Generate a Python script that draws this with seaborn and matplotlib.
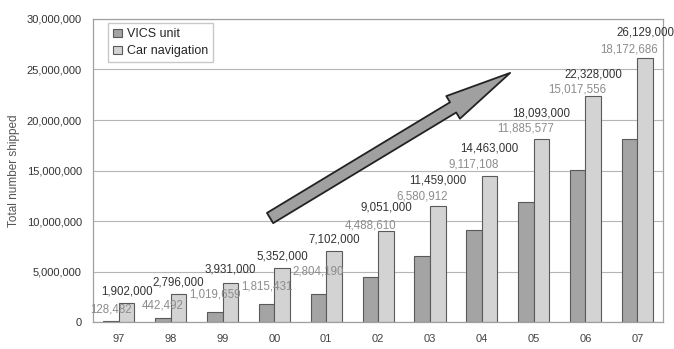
import numpy as np
import pandas as pd
import matplotlib
matplotlib.use("Agg")
import matplotlib.pyplot as plt
import matplotlib.ticker as mticker
from matplotlib.patches import FancyArrowPatch, ArrowStyle
import seaborn as sns

# ==========================
# DATA
# ==========================

years = ["97", "98", "99", "00", "01", "02", "03", "04", "05", "06", "07"]

vics_unit = [128482, 442492, 1019659, 1815431, 2804190, 4488610,
             6580912, 9117108, 11885577, 15017556, 18172686]

car_navigation = [1902000, 2796000, 3931000, 5352000, 7102000, 9051000,
                  11459000, 14463000, 18093000, 22328000, 26129000]

series_names = ["VICS unit", "Car navigation"]

# label placement (pixels above the car navigation bar top)
label_lift = [12, 12, 13, 12, 11, 23, 26, 28, 26, 22, 26]
label_drop = [18, 23, 25, 30, 32, 18, 16, 16, 15, 15, 17]

df = pd.DataFrame({
    "year": years * 2,
    "series": [series_names[0]] * len(years) + [series_names[1]] * len(years),
    "shipped": vics_unit + car_navigation,
})

# ==========================
# PLOT
# ==========================

sns.set_style("white")
plt.rcParams["font.family"] = ["Liberation Sans", "DejaVu Sans"]

fig = plt.figure(figsize=(6.74, 3.49), dpi=100)
ax = fig.add_axes([0.138, 0.076, 0.846, 0.870])

sns.barplot(
    data=df,
    x="year",
    y="shipped",
    hue="series",
    hue_order=series_names,
    order=years,
    palette={"VICS unit": "#a4a4a4", "Car navigation": "#d3d3d3"},
    width=0.6,
    edgecolor="#5a5a5a",
    linewidth=0.8,
    ax=ax,
)

ax.set_xlim(-0.5, len(years) - 0.5)
ax.set_ylim(0, 30000000)
ax.yaxis.set_major_locator(mticker.MultipleLocator(5000000))
ax.yaxis.set_major_formatter(mticker.FuncFormatter(lambda v, p: f"{int(v):,}"))

ax.yaxis.grid(True, color="#b5b5b5", linewidth=0.8)
ax.set_axisbelow(True)

for s in ax.spines.values():
    s.set_color("#a0a0a0")
    s.set_linewidth(0.9)

ax.set_xticks(np.arange(-0.5, len(years), 1), minor=True)
ax.tick_params(axis="x", which="major", length=0, pad=8, labelsize=8, labelcolor="#444444")
ax.tick_params(axis="x", which="minor", length=3, direction="in", color="#aaaaaa")
ax.tick_params(axis="y", length=0, pad=8, labelsize=8, labelcolor="#333333")

ax.set_xlabel("")
ax.set_ylabel("Total number shipped", fontsize=8.5, color="#555555", labelpad=5)

# value labels
dark_bars = ax.containers[0]
light_bars = ax.containers[1]
for i in range(len(years)):
    db = dark_bars[i]
    lb = light_bars[i]
    top = lb.get_height()
    ax.annotate(
        f"{car_navigation[i]:,}",
        (lb.get_x() + lb.get_width() / 2, top),
        xytext=(0, label_lift[i]),
        textcoords="offset pixels",
        ha="center", va="center",
        fontsize=8.3, color="#333333",
    )
    ax.annotate(
        f"{vics_unit[i]:,}",
        (db.get_x() + db.get_width() / 2, top),
        xytext=(0, label_lift[i] - label_drop[i]),
        textcoords="offset pixels",
        ha="center", va="center",
        fontsize=8.3, color="#8c8c8c",
    )

# legend
handles, labels = ax.get_legend_handles_labels()
ax.legend(
    handles, labels,
    loc="upper left",
    bbox_to_anchor=(0.026, 0.985),
    borderaxespad=0,
    fontsize=9,
    frameon=True,
    fancybox=False,
    edgecolor="#bbbbbb",
    handlelength=0.7,
    handleheight=0.7,
    handletextpad=0.4,
    labelspacing=0.4,
)

# growth arrow
arrow = FancyArrowPatch(
    (0.3105, 0.344), (0.7316, 0.822),
    transform=ax.transAxes,
    arrowstyle=ArrowStyle.Simple(head_length=48, head_width=19, tail_width=8.6),
    mutation_scale=1,
    shrinkA=0, shrinkB=0,
    facecolor="#a0a0a0",
    edgecolor="#222222",
    linewidth=1.3,
    zorder=5,
)
ax.add_patch(arrow)

plt.savefig("out.png", dpi=100)
plt.close()
